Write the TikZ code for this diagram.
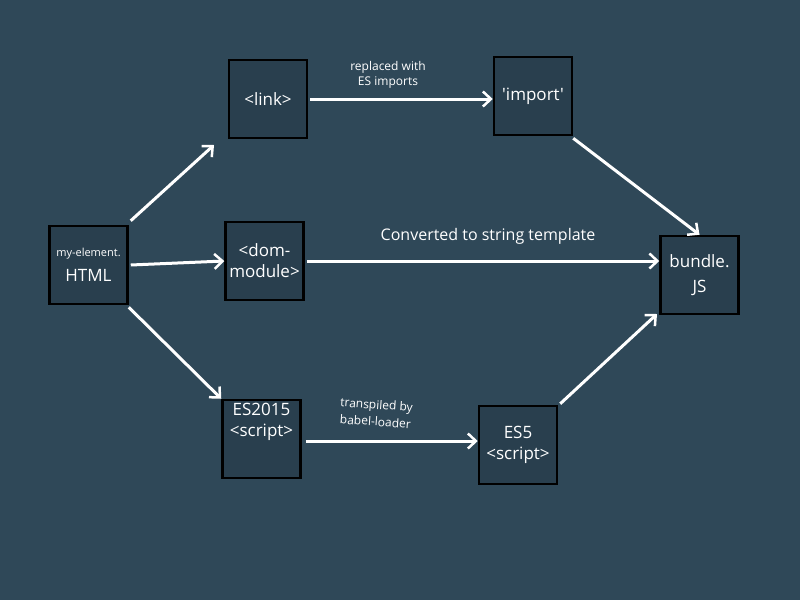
\documentclass[tikz,border=0pt]{standalone}
\usepackage{fontspec}
\setmainfont{Open Sans}
\newfontfamily\qfont{Open Sans}
\usetikzlibrary{arrows.meta}
\definecolor{bg}{RGB}{47,72,88}
\definecolor{boxfill}{RGB}{41,63,78}
\tikzset{
  box/.style={draw=black, line width=2.5pt, fill=boxfill, minimum width=78pt, minimum height=78pt, inner sep=0pt, text=white, align=center, font=\fontsize{17}{21}\selectfont},
  conn/.style={draw=white, line width=3pt, -{Straight Barb[length=8pt,width=15pt,line width=2.5pt]}},
  lbl/.style={text=white, align=center, font=\fontsize{12}{15}\selectfont}
}
\begin{document}
\begin{tikzpicture}[x=1pt,y=-1pt]
\fill[bg] (0,0) rectangle (800,600);
\useasboundingbox (0,0) rectangle (800,600);
\node[box] (html) at (88.5,265) {{\fontsize{11}{12}\selectfont my-element.}\\[4pt]HTML};
\node[box] (link) at (268,99) {<link>};
\node[box] (dom) at (264.5,261) {<dom-\\module>};
\node[box] (es15) at (261.5,439) {ES2015\\<script>\\[18pt]};
\node[box] (imp) at (533,96) {\qfont 'import'};
\node[box] (bundle) at (699.5,275) {bundle.\\[4pt]JS};
\node[box] (es5) at (518,445) {ES5\\<script>};
\coordinate (c1) at (214,145);
\coordinate (c2) at (657,314);
\draw[conn] (html.north east) ++(2,-4) -- (c1);
\draw[conn] (html.east) ++(2,0) -- (dom.west);
\draw[conn] (html.south east) ++(0,2) -- (es15.north west);
\draw[conn] (link.east) ++(2,0) -- (link.east -| imp.west);
\draw[conn] (dom.east) ++(2,0) -- (dom.east -| bundle.west);
\draw[conn] (imp.south east) ++(0,2) -- (bundle.north);
\draw[conn] (es15.east) ++(4,2) -- ([yshift=-2pt]es15.east -| es5.west);
\draw[conn] (es5.north east) ++(2,-1) -- (c2);
\node[lbl] (l1) at (388,75) {replaced with\\ES imports};
\node[lbl, font=\fontsize{16}{18}\selectfont] (l2) at (488,236) {Converted to string template};
\node[lbl, rotate=-4, font=\fontsize{12}{17}\selectfont] (l3) at (376,413) {transpiled by\\babel-loader};
\end{tikzpicture}
\end{document}
